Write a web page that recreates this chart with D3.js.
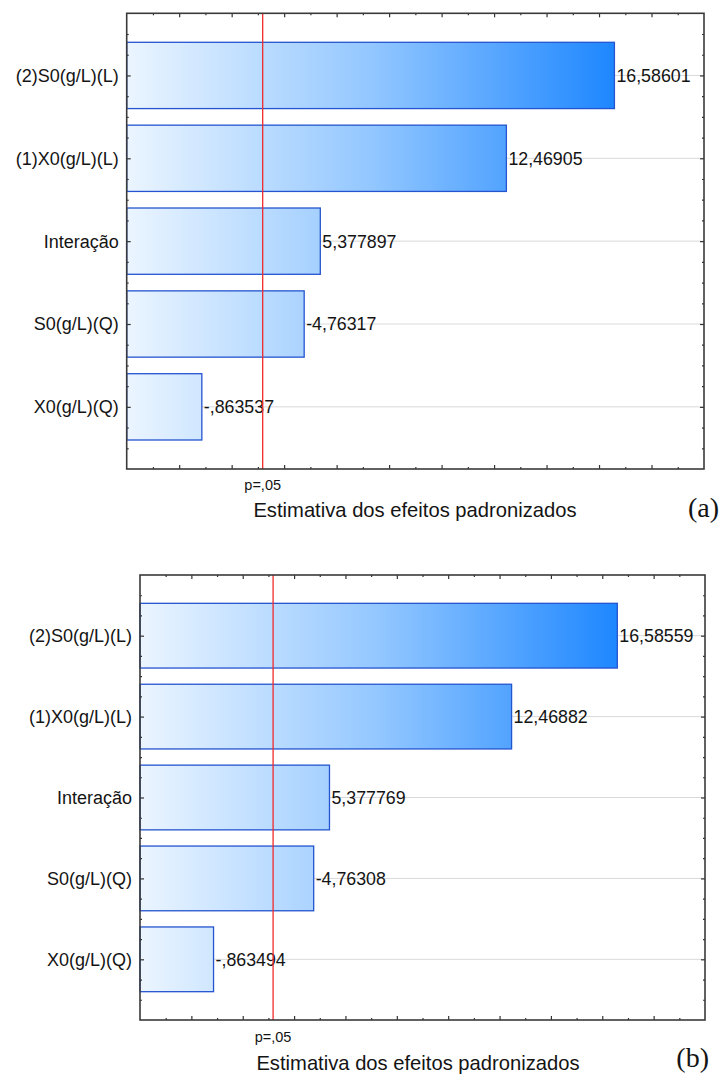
<!DOCTYPE html>
<html>
<head>
<meta charset="utf-8">
<script src="https://cdn.jsdelivr.net/npm/d3@7"></script>
<style>
  html, body { margin: 0; padding: 0; background: #fff; }
  svg { display: block; }
  text { font-family: "Liberation Sans", Arial, sans-serif; fill: #141414; }
</style>
</head>
<body>
<svg id="chart" width="721" height="1075"></svg>
<script>
// Standardized effect estimates (Pareto chart), two fitted models
const categories = ["(2)S0(g/L)(L)", "(1)X0(g/L)(L)", "Interação", "S0(g/L)(Q)", "X0(g/L)(Q)"];
const effectsA = [16.58601, 12.46905, 5.377897, -4.76317, -0.863537];
const effectsB = [16.58559, 12.46882, 5.377769, -4.76308, -0.863494];
const tCritical = 3.182446;            // t(0.975; df = 3), p = .05
const xDomain = [-2, 20];
const pLabel = "p=,05";
const xTitle = "Estimativa dos efeitos padronizados";
const panelTags = ["(a)", "(b)"];

const svg = d3.select("#chart");

// Statistica-style number text: decimal comma, no leading zero
const fmt = v => String(v).replace(".", ",").replace(/^(-?)0,/, "$1,");

const panels = [
  { id: "a", values: effectsA, tag: panelTags[0],
    left: 126.7, right: 704, top: 13.3, bottom: 469,
    pY: 490, titleX: 415, titleY: 517, tagX: 719, tagY: 517 },
  { id: "b", values: effectsB, tag: panelTags[1],
    left: 140, right: 705, top: 575, bottom: 1020,
    pY: 1041.5, titleX: 418, titleY: 1070, tagX: 709, tagY: 1067 }
];

panels.forEach(p => {
  const x = d3.scaleLinear().domain(xDomain).range([p.left, p.right]);
  const y = d3.scaleLinear().domain([-0.75, categories.length - 0.25]).range([p.top, p.bottom]);
  const rows = categories.map((c, i) => ({ name: c, value: p.values[i], i }));
  const maxAbs = d3.max(rows, d => Math.abs(d.value));

  const grad = svg.append("defs").append("linearGradient")
    .attr("id", "barGrad" + p.id)
    .attr("gradientUnits", "userSpaceOnUse")
    .attr("x1", x(xDomain[0])).attr("x2", x(maxAbs))
    .attr("y1", 0).attr("y2", 0);
  grad.append("stop").attr("offset", 0).attr("stop-color", "#ebf5ff");
  grad.append("stop").attr("offset", 0.5).attr("stop-color", "#93c7ff");
  grad.append("stop").attr("offset", 1).attr("stop-color", "#1e87ff");

  const g = svg.append("g");

  // horizontal grid lines through each category
  g.selectAll(".grid").data(rows).join("line")
    .attr("x1", p.left).attr("x2", p.right)
    .attr("y1", d => y(d.i)).attr("y2", d => y(d.i))
    .attr("stroke", "#d9d9d9").attr("stroke-width", 1);

  // bars of absolute effect
  g.selectAll(".bar").data(rows).join("rect")
    .attr("x", x(xDomain[0]))
    .attr("y", d => y(d.i - 0.4))
    .attr("width", d => x(Math.abs(d.value)) - x(xDomain[0]))
    .attr("height", d => y(d.i + 0.4) - y(d.i - 0.4))
    .attr("fill", `url(#barGrad${p.id})`)
    .attr("stroke", "#2454cf").attr("stroke-width", 1.3);

  // value labels
  g.selectAll(".val").data(rows).join("text")
    .attr("x", d => x(Math.abs(d.value)) + 2)
    .attr("y", d => y(d.i))
    .attr("dy", "0.36em")
    .attr("font-size", "17.8px")
    .text(d => fmt(d.value));

  // category labels
  g.selectAll(".cat").data(rows).join("text")
    .attr("x", p.left - 8)
    .attr("y", d => y(d.i))
    .attr("dy", "0.36em")
    .attr("text-anchor", "end")
    .attr("font-size", "18px")
    .text(d => d.name);

  // significance threshold
  g.append("line")
    .attr("x1", x(tCritical)).attr("x2", x(tCritical))
    .attr("y1", p.top).attr("y2", p.bottom)
    .attr("stroke", "#f02a2a").attr("stroke-width", 1.3);
  g.append("text")
    .attr("x", x(tCritical)).attr("y", p.pY)
    .attr("text-anchor", "middle").attr("font-size", "14.5px")
    .text(pLabel);

  // inward ticks on all four sides
  const ints = d3.range(xDomain[0] + 1, xDomain[1]);
  const xMajor = ints.filter(v => v % 2 === 0);
  const xMinor = ints.filter(v => v % 2 !== 0);
  const yMajor = d3.range(categories.length);
  const yMinor = d3.range(-0.5, categories.length - 0.25, 0.25).filter(v => !Number.isInteger(v));

  const tick = (axis, pos, vals, size) => {
    const a = g.append("g").attr("transform", pos)
      .call(axis.tickValues(vals).tickSize(-size).tickFormat(""));
    a.select(".domain").remove();
    a.selectAll("line").attr("stroke", "#333").attr("stroke-width", 1.2);
  };
  tick(d3.axisBottom(x), `translate(0,${p.bottom})`, xMajor, 4);
  tick(d3.axisBottom(x), `translate(0,${p.bottom})`, xMinor, 2);
  tick(d3.axisTop(x), `translate(0,${p.top})`, xMajor, 4);
  tick(d3.axisTop(x), `translate(0,${p.top})`, xMinor, 2);
  tick(d3.axisLeft(y), `translate(${p.left},0)`, yMajor, 4);
  tick(d3.axisLeft(y), `translate(${p.left},0)`, yMinor, 2);
  tick(d3.axisRight(y), `translate(${p.right},0)`, yMajor, 4);
  tick(d3.axisRight(y), `translate(${p.right},0)`, yMinor, 2);

  // frame
  g.append("rect")
    .attr("x", p.left).attr("y", p.top)
    .attr("width", p.right - p.left).attr("height", p.bottom - p.top)
    .attr("fill", "none").attr("stroke", "#3a3a3a").attr("stroke-width", 1.6);

  // axis title and panel tag
  g.append("text")
    .attr("x", p.titleX).attr("y", p.titleY)
    .attr("text-anchor", "middle").attr("font-size", "20.2px")
    .text(xTitle);
  g.append("text")
    .attr("x", p.tagX).attr("y", p.tagY)
    .attr("text-anchor", "end").attr("font-size", "28px")
    .style("font-family", "'Liberation Serif', 'Times New Roman', serif")
    .text(p.tag);
});
</script>
</body>
</html>
